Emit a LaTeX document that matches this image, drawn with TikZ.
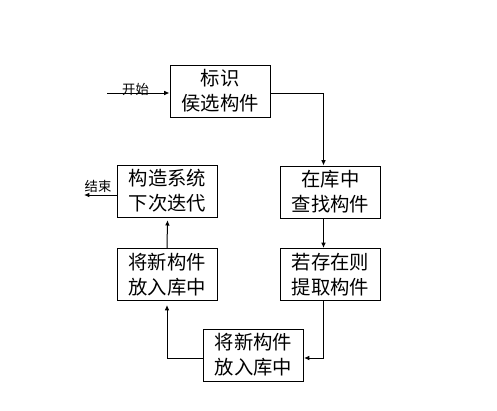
\documentclass[tikz,border=0pt]{standalone}
\usepackage{fontspec}
\usepackage{xcolor}
\usepackage{tikz}
\usetikzlibrary{positioning, arrows.meta, calc}
\newfontfamily\cjk{Noto Sans CJK SC}

\begin{document}
\begin{tikzpicture}[
  x=0.75pt, y=-0.75pt,
  font=\cjk\fontsize{14.5pt}{18.75pt}\selectfont,
  box/.style={draw, line width=0.75pt, minimum width=75pt, minimum height=39pt,
              align=center, inner sep=1pt},
  link/.style={draw, line width=0.75pt, -{Latex[length=4pt,width=3.5pt]}},
  tag/.style={font=\cjk\fontsize{10pt}{12pt}\selectfont, inner sep=0pt}
]
\useasboundingbox (0,0) rectangle (497,411);

% boxes (centres in pixels of the original)
\node[box] (ident)  at (220,91)    {标识\\侯选构件};
\node[box] (search) at (330.5,192) {在库中\\查找构件};
\node[box] (fetch)  at (330.5,274.5) {若存在则\\提取构件};
\node[box] (store)  at (253.5,355) {将新构件\\放入库中};
\node[box] (put)    at (167,274.5) {将新构件\\放入库中};
\node[box] (build)  at (167.5,191) {构造系统\\下次迭代};

% free ends
\coordinate (start)  at (107,93);
\coordinate (finish) at (84,195);

% labels
\node[tag, anchor=south] (lstart) at (135.5,96) {开始};
\node[tag, anchor=south] (lend)   at (98,193)   {结束};

% connectors
\draw[link] (start) -- (start -| ident.west);
\draw[link] (ident.east |- start) -| ([xshift=-5.25pt]search.north);
\draw[link] ([xshift=-5.25pt]search.south) -- ([xshift=-5.25pt]fetch.north);
\draw[link] ([xshift=-5.25pt]fetch.south) |- ([yshift=-2.25pt]store.east);
\draw[link] ([yshift=-2.25pt]store.west) -| ([yshift=-3pt]put.south);
\draw[link] (put.north) -- ([yshift=-2pt]build.south);
\draw[link] ([yshift=-3pt]build.west) -- (finish);

\end{tikzpicture}
\end{document}
